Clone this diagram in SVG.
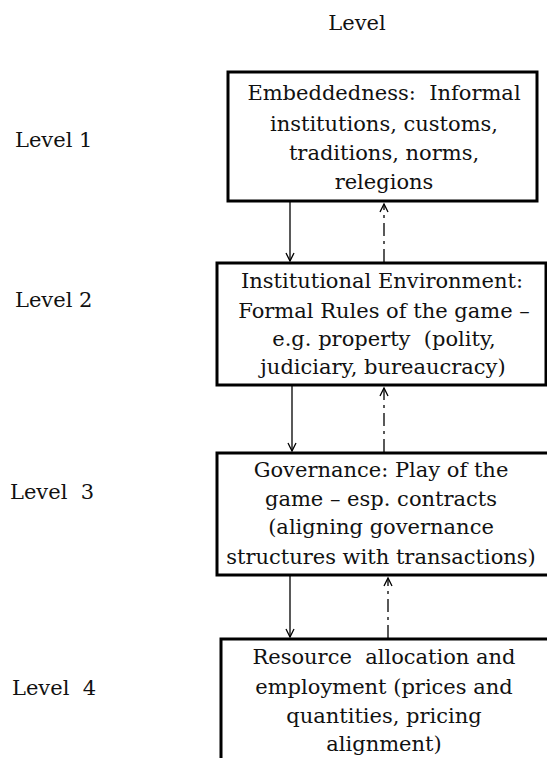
<svg xmlns="http://www.w3.org/2000/svg" width="547" height="758" viewBox="0 0 547 758">
<style>
text{font-family:"DejaVu Serif","Liberation Serif",serif;font-size:21px;fill:#111}
.c{text-anchor:middle}
.box{fill:#fff;stroke:#000;stroke-width:3}
.solid{stroke:#000;stroke-width:1.3;fill:none}
.dd{stroke:#000;stroke-width:1.3;fill:none;stroke-dasharray:13 5 3 5}
.head{stroke:#000;stroke-width:1.3;fill:none}
</style>
<rect width="547" height="758" fill="#fff"/>
<text class="c" x="357" y="30">Level</text>
<g id="labels">
<text x="15" y="147">Level 1</text>
<text x="15" y="307">Level 2</text>
<text x="10" y="499" xml:space="preserve">Level  3</text>
<text x="12" y="695" xml:space="preserve">Level  4</text>
</g>
<g id="n1">
<rect class="box" x="228" y="72" width="309" height="129"/>
<text class="c" x="384" y="100" xml:space="preserve">Embeddedness:  Informal</text>
<text class="c" x="384" y="131">institutions, customs,</text>
<text class="c" x="384" y="160">traditions, norms,</text>
<text class="c" x="384" y="189">relegions</text>
</g>
<g id="n2">
<rect class="box" x="217" y="263" width="329" height="122"/>
<text class="c" x="382" y="288">Institutional Environment:</text>
<text class="c" x="384" y="318">Formal Rules of the game –</text>
<text class="c" x="384" y="346" xml:space="preserve">e.g. property  (polity,</text>
<text class="c" x="383" y="374">judiciary, bureaucracy)</text>
</g>
<g id="n3">
<rect class="box" x="217" y="453" width="340" height="122"/>
<text class="c" x="381" y="477">Governance: Play of the</text>
<text class="c" x="381" y="506">game – esp. contracts</text>
<text class="c" x="381" y="534">(aligning governance</text>
<text class="c" x="381" y="564">structures with transactions)</text>
</g>
<g id="n4">
<rect class="box" x="221" y="639" width="340" height="140"/>
<text class="c" x="384" y="664" xml:space="preserve">Resource  allocation and</text>
<text class="c" x="384" y="694">employment (prices and</text>
<text class="c" x="384" y="723">quantities, pricing</text>
<text class="c" x="384" y="751">alignment)</text>
</g>
<g id="connectors">
<line class="solid" x1="290" y1="202" x2="290" y2="261"/>
<polyline class="head" points="286,253 290,261 294,253"/>
<line class="dd" x1="384" y1="262" x2="384" y2="204"/>
<polyline class="head" points="380,212 384,204 388,212"/>
<line class="solid" x1="292" y1="386" x2="292" y2="451"/>
<polyline class="head" points="288,443 292,451 296,443"/>
<line class="dd" x1="384" y1="452" x2="384" y2="388"/>
<polyline class="head" points="380,396 384,388 388,396"/>
<line class="solid" x1="290" y1="576" x2="290" y2="637"/>
<polyline class="head" points="286,629 290,637 294,629"/>
<line class="dd" x1="388" y1="638" x2="388" y2="578"/>
<polyline class="head" points="384,586 388,578 392,586"/>
</g>
</svg>
